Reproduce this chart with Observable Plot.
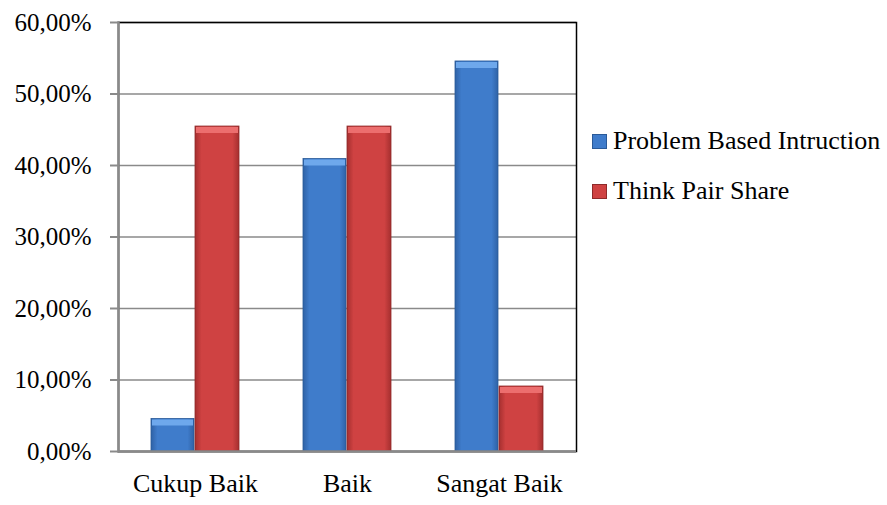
<!DOCTYPE html>
<html><head><meta charset="utf-8">
<script src="https://cdn.jsdelivr.net/npm/d3@7"></script>
<script src="https://cdn.jsdelivr.net/npm/@observablehq/plot@0.6"></script>
<style>
body{margin:0;background:#fff;font-family:"Liberation Serif",Tinos,"Times New Roman",Times,"Noto Serif","DejaVu Serif",FreeSerif,serif}
#wrap{position:relative;width:887px;height:505px}
#chart{position:absolute;left:0;top:0}
#chart svg text{font-family:"Liberation Serif",Tinos,"Times New Roman",Times,"Noto Serif","DejaVu Serif",FreeSerif,serif}
#legend{position:absolute;left:592px;top:116px;font-size:26px;color:#000;white-space:nowrap}
.item{display:flex;align-items:center;height:50px}
.sw{width:15px;height:15px;margin-right:6px;box-sizing:border-box}
</style></head><body>
<div id="wrap"><div id="chart"></div><div id="legend"></div></div>
<script>
const categories = ["Cukup Baik", "Baik", "Sangat Baik"];
const seriesNames = ["Problem Based Intruction", "Think Pair Share"];
const pbiValues = [4.55, 40.91, 54.55];
const tpsValues = [45.45, 45.45, 9.09];
const yTicks = [0, 10, 20, 30, 40, 50, 60];

const pbi = categories.map((c, i) => ({cat: c, v: pbiValues[i]}));
const tps = categories.map((c, i) => ({cat: c, v: tpsValues[i]}));
const fmt = d => d.toFixed(2).replace(".", ",") + "%";

const blueOpt = {insetLeft: 32, insetRight: 77};
const redOpt = {insetLeft: 76, insetRight: 32};
const serif = '"Liberation Serif",Tinos,"Times New Roman",Times,"Noto Serif","DejaVu Serif",FreeSerif,serif';

const chart = Plot.plot({
  width: 590, height: 505,
  marginLeft: 118, marginRight: 14, marginTop: 22, marginBottom: 54,
  style: {fontFamily: serif, fontSize: "25px", color: "#000", background: "#fff"},
  x: {domain: categories, padding: 0, label: null},
  y: {domain: [0, 60], label: null},
  marks: [
    Plot.gridY(yTicks, {stroke: "#8a8a8a", strokeOpacity: 1, strokeWidth: 1.5}),
    Plot.frame({stroke: "#000", strokeWidth: 1.5}),
    Plot.barY(pbi, {x: "cat", y: "v", fill: "url(#gBlue)", stroke: "#2a5a98", strokeWidth: 0.8, ...blueOpt}),
    Plot.barY(tps, {x: "cat", y: "v", fill: "url(#gRed)", stroke: "#8e2a2a", strokeWidth: 0.8, ...redOpt}),
    Plot.tickY(pbi, {x: "cat", y: "v", stroke: "#6ea8ec", strokeWidth: 6, dy: 3.5, insetLeft: 33, insetRight: 78}),
    Plot.tickY(tps, {x: "cat", y: "v", stroke: "#ec6e6e", strokeWidth: 6, dy: 3.5, insetLeft: 77, insetRight: 33}),
    Plot.frame({anchor: "left", stroke: "#8a8a8a", strokeWidth: 2.5}),
    Plot.ruleY([0], {stroke: "#8a8a8a", strokeWidth: 2.5}),
    Plot.axisY(yTicks, {tickSize: 8, tickPadding: 19, tickFormat: fmt, stroke: "#8a8a8a", strokeWidth: 2, fill: "#000", fontSize: 25, label: null}),
    Plot.axisX({tickSize: 0, tickPadding: 22, fill: "#000", fontSize: 26, label: null})
  ]
});

const ns = "http://www.w3.org/2000/svg";
const defs = document.createElementNS(ns, "defs");
function grad(id, edge, mid) {
  const g = document.createElementNS(ns, "linearGradient");
  g.setAttribute("id", id);
  g.setAttribute("x1", "0"); g.setAttribute("x2", "1"); g.setAttribute("y1", "0"); g.setAttribute("y2", "0");
  [[0, edge], [0.15, mid], [0.85, mid], [1, edge]].forEach(([o, c]) => {
    const s = document.createElementNS(ns, "stop");
    s.setAttribute("offset", o); s.setAttribute("stop-color", c);
    g.appendChild(s);
  });
  defs.appendChild(g);
}
grad("gBlue", "#2f62a6", "#3f7ccb");
grad("gRed", "#a52f2f", "#cf4242");
chart.insertBefore(defs, chart.firstChild);
document.getElementById("chart").appendChild(chart);

const leg = document.getElementById("legend");
const swatch = [["#3f7ccb", "#2a5a98"], ["#cf4242", "#8e2a2a"]];
seriesNames.forEach((n, i) => {
  const it = document.createElement("div"); it.className = "item";
  const sw = document.createElement("div"); sw.className = "sw";
  sw.style.background = swatch[i][0]; sw.style.border = "1px solid " + swatch[i][1];
  const t = document.createElement("span"); t.textContent = n;
  it.appendChild(sw); it.appendChild(t); leg.appendChild(it);
});
</script>
</body></html>
